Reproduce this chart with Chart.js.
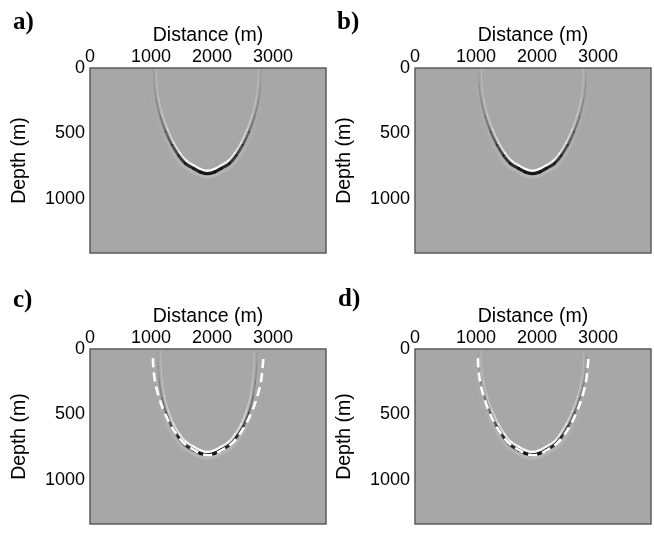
<!DOCTYPE html>
<html>
<head>
<meta charset="utf-8">
<script src="https://cdn.jsdelivr.net/npm/chart.js@4.4.1/dist/chart.umd.min.js"></script>
<style>
  body { margin: 0; background: #fff; }
  #wrap { position: relative; width: 654px; height: 535px; overflow: hidden; }
  canvas { position: absolute; }
  .tag { position: absolute; font: bold 25px "Liberation Serif", "DejaVu Serif", serif; line-height: 1; color: #000; }
</style>
</head>
<body>
<div id="wrap">
  <canvas id="pa" width="330" height="260" style="left:0;top:0"></canvas>
  <canvas id="pb" width="329" height="260" style="left:325px;top:0"></canvas>
  <canvas id="pc" width="330" height="250" style="left:0;top:281px"></canvas>
  <canvas id="pd" width="329" height="250" style="left:325px;top:281px"></canvas>
  <div class="tag" style="left:13px;top:8px">a)</div>
  <div class="tag" style="left:337px;top:8px">b)</div>
  <div class="tag" style="left:13px;top:286px">c)</div>
  <div class="tag" style="left:338px;top:285px">d)</div>
</div>
<script>
// axis ticks
var distanceTicks = [0, 1000, 2000, 3000];
var depthTicks = [0, 500, 1000];

// imaged impulse response in a), b) and d)
var eventDistance = [1065, 1075, 1110, 1175, 1260, 1360, 1465, 1570, 1705, 1810, 1925,
                     2040, 2145, 2280, 2385, 2490, 2590, 2675, 2740, 2775, 2785];
var eventDepth = [0, 130, 250, 370, 480, 580, 660, 718, 757, 783, 796,
                  783, 757, 718, 660, 580, 480, 370, 250, 130, 0];

// c) images a slightly narrower curve near the surface
var eventCDistance = [1145, 1150, 1170, 1210, 1275, 1360, 1465, 1570, 1705, 1810, 1925,
                      2040, 2145, 2280, 2385, 2490, 2575, 2640, 2680, 2700, 2705];
var eventCDepth = [0, 130, 250, 370, 480, 580, 660, 718, 757, 783, 796,
                   783, 757, 718, 660, 580, 480, 370, 250, 130, 0];

// dashed overlay in c) and d)
var dashDistance = [1065, 1070, 1100, 1165, 1250, 1355, 1465, 1575, 1710, 1815, 1935,
                    2055, 2160, 2295, 2405, 2515, 2620, 2705, 2770, 2800, 2810];
var dashDepth = [70, 130, 250, 370, 480, 580, 660, 718, 757, 785, 799,
                 785, 757, 718, 660, 580, 480, 370, 250, 130, 70];

Chart.defaults.font.family = '"Liberation Sans", Arial, sans-serif';
Chart.defaults.color = '#000';

function pts(xs, ys) {
    return xs.map(function (x, i) { return {x: x, y: ys[i]}; });
}

function deepestOf(ds) {
    return Math.max.apply(null, ds.data.map(function (p) { return p.y; }));
}

// colour fading from the surface down to the apex of the curve
function bandColor(stops) {
    return function (context) {
        var chart = context.chart;
        if (!chart.chartArea) return stops[stops.length - 1][1];
        var ds = chart.data.datasets[context.datasetIndex];
        var y = chart.scales.y;
        var g = chart.ctx.createLinearGradient(0, y.getPixelForValue(0), 0, y.getPixelForValue(deepestOf(ds)));
        stops.forEach(function (s) { g.addColorStop(s[0], s[1]); });
        return g;
    };
}

// the wavelet gets thicker towards the apex
function bandWidth(w0, w1) {
    return function (ctx) {
        var ds = ctx.chart.data.datasets[ctx.datasetIndex];
        var f = Math.max(ctx.p0.parsed.y, ctx.p1.parsed.y) / deepestOf(ds);
        return w0 + (w1 - w0) * f * f;
    };
}

// Chart.js paints the last dataset first, so the list goes top layer first
function eventLayers(xs, ys, shift) {
    var data = pts(xs, ys);
    shift = shift || 0;
    return [
        { data: data, grow: 1.5 + shift, borderWidth: 2.2, borderCapStyle: 'round', borderJoinStyle: 'round',
          segment: { borderWidth: bandWidth(1.1, 3.2) },
          borderColor: bandColor([[0, 'rgba(50,50,50,0.08)'], [0.5, 'rgba(40,40,40,0.35)'], [0.8, 'rgba(30,30,30,0.72)'], [1, 'rgba(15,15,15,0.95)']]) },
        { data: data, grow: -1.4 + shift, borderWidth: 1.8, borderCapStyle: 'round', borderJoinStyle: 'round',
          segment: { borderWidth: bandWidth(1.1, 2.5) },
          borderColor: bandColor([[0, 'rgba(255,255,255,0.16)'], [0.5, 'rgba(255,255,255,0.3)'], [0.8, 'rgba(255,255,255,0.6)'], [1, 'rgba(255,255,255,0.92)']]) },
        { data: data, grow: 4.0 + shift, borderWidth: 5, borderJoinStyle: 'round',
          borderColor: bandColor([[0, 'rgba(255,255,255,0)'], [0.6, 'rgba(255,255,255,0.04)'], [1, 'rgba(255,255,255,0.16)']]) }
    ];
}

function dashLayer() {
    return { data: pts(dashDistance, dashDepth), grow: 2.0, borderWidth: 2.5, borderColor: '#fff', borderDash: [9, 5] };
}

// gray image background and frame
var frame = {
    id: 'frame',
    beforeDatasetsDraw: function (chart) {
        var a = chart.chartArea, ctx = chart.ctx;
        ctx.save();
        ctx.fillStyle = '#a7a7a7';
        ctx.fillRect(a.left, a.top, a.right - a.left, a.bottom - a.top);
        ctx.restore();
    },
    afterDraw: function (chart) {
        var a = chart.chartArea, ctx = chart.ctx;
        ctx.save();
        ctx.strokeStyle = '#5c5c5c';
        ctx.lineWidth = 1.5;
        ctx.strokeRect(a.left, a.top, a.right - a.left, a.bottom - a.top);
        ctx.restore();
    }
};

// push a layer a few pixels outwards (or inwards) from the curve
var wave = {
    id: 'wave',
    beforeDatasetDraw: function (chart, args) {
        var ds = chart.data.datasets[args.index];
        var ctx = chart.ctx;
        ctx.save();
        if (!ds.grow) return;
        var xs = ds.data.map(function (p) { return chart.scales.x.getPixelForValue(p.x); });
        var ys = ds.data.map(function (p) { return chart.scales.y.getPixelForValue(p.y); });
        var left = Math.min.apply(null, xs), right = Math.max.apply(null, xs);
        var top = Math.min.apply(null, ys), bottom = Math.max.apply(null, ys);
        var cx = (left + right) / 2;
        var sx = 1 + ds.grow / ((right - left) / 2);
        var sy = 1 + ds.grow / (bottom - top);
        ctx.translate(cx, top);
        ctx.scale(sx, sy);
        ctx.translate(-cx, -top);
    },
    afterDatasetDraw: function (chart) {
        chart.ctx.restore();
    }
};

function plainTick(v) { return String(v); }

function makePanel(id, layers, depthMax, padRight, padBottom) {
    new Chart(document.getElementById(id), {
        type: 'line',
        data: { datasets: layers },
        options: {
            responsive: false,
            animation: false,
            devicePixelRatio: 1,
            events: [],
            layout: { padding: { left: 0, top: 0, right: padRight, bottom: padBottom } },
            elements: {
                point: { radius: 0 },
                line: { tension: 0.4, fill: false }
            },
            plugins: { legend: { display: false }, tooltip: { enabled: false } },
            scales: {
                x: {
                    type: 'linear',
                    position: 'top',
                    min: 0,
                    max: 3870,
                    afterBuildTicks: function (s) {
                        s.ticks = distanceTicks.map(function (v) { return {value: v}; });
                    },
                    afterFit: function (s) {
                        s.height = 68;
                        s.paddingLeft = 0;
                        s.paddingRight = 0;
                    },
                    grid: { display: false, drawTicks: false },
                    border: { display: false },
                    ticks: { font: { size: 18 }, padding: 0, maxRotation: 0, minRotation: 0, autoSkip: false, callback: plainTick },
                    title: { display: true, text: 'Distance (m)', font: { size: 19.5 }, padding: { top: 24, bottom: 0 } }
                },
                y: {
                    type: 'linear',
                    reverse: true,
                    min: 0,
                    max: depthMax,
                    afterBuildTicks: function (s) {
                        s.ticks = depthTicks.map(function (v) { return {value: v}; });
                    },
                    afterFit: function (s) {
                        s.width = 90;
                        s.paddingTop = 0;
                        s.paddingBottom = 0;
                    },
                    grid: { display: false, drawTicks: false },
                    border: { display: false },
                    ticks: { font: { size: 18 }, padding: 5, autoSkip: false, callback: plainTick },
                    title: { display: true, text: 'Depth (m)', font: { size: 19.5 }, padding: { top: 8, bottom: 0 } }
                }
            }
        },
        plugins: [frame, wave]
    });
}

makePanel('pa', eventLayers(eventDistance, eventDepth), 1414, 4, 7);
makePanel('pb', eventLayers(eventDistance, eventDepth), 1414, 3, 7);
makePanel('pc', [dashLayer()].concat(eventLayers(eventCDistance, eventCDepth, 0.5)), 1340, 4, 7);
makePanel('pd', [dashLayer()].concat(eventLayers(eventDistance, eventDepth, 0.5)), 1340, 3, 7);
</script>
</body>
</html>
